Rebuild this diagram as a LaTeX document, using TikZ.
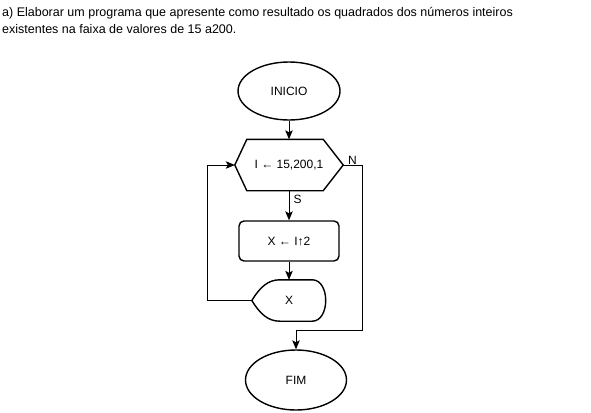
\documentclass[tikz,border=0pt]{standalone}
\usepackage{fontspec}
\setmainfont{Liberation Sans}
\usetikzlibrary{arrows.meta,calc,shapes.geometric}
\begin{document}
\begin{tikzpicture}[x=1pt,y=-1pt,
  shp/.style={draw=none,inner sep=0pt,font=\fontsize{12}{14}\selectfont},
  bord/.style={draw,line width=1.4pt},
  conn/.style={line width=1pt,-{Stealth[length=9pt,width=7.5pt,inset=2pt]}},
  lbl/.style={inner sep=0pt,font=\fontsize{12}{14}\selectfont}]
\useasboundingbox (0,0) rectangle (591,412);
\fill[white] (0,0) rectangle (591,412);
\node[lbl,anchor=base west] (t1) at (2,17) {\fontsize{12.5}{15}\selectfont a) Elaborar um programa que apresente como resultado os quadrados dos números inteiros};
\node[lbl,anchor=base west] (t2) at (2,34) {\fontsize{12.5}{15}\selectfont existentes na faixa de valores de 15 a200.};
% start
\node[shp,ellipse,bord,minimum width=102,minimum height=58] (ini) at (289,91) {INICIO};
% loop hexagon
\node[shp,minimum width=108,minimum height=51] (hex) at (289,165) {I ← 15,200,1};
\draw[bord] (hex.west) -- ($(hex.north west)+(12,0)$) -- ($(hex.north east)+(-20,0)$) -- (hex.east)
  -- ($(hex.south east)+(-20,0)$) -- ($(hex.south west)+(12,0)$) -- cycle;
% process
\node[shp,bord,rounded corners=5pt,minimum width=100,minimum height=40] (proc) at (289,241) {X ← I↑2};
% display
\node[shp,minimum width=74,minimum height=41] (disp) at (289,300.5) {X};
\draw[bord] (disp.west) .. controls ($(disp.west)+(8,-13)$) and ($(disp.north west)+(16,0)$) .. ($(disp.north west)+(28,0)$)
  -- ($(disp.north east)+(-14,0)$) .. controls ($(disp.north east)+(4,0)$) and ($(disp.south east)+(4,0)$) .. ($(disp.south east)+(-14,0)$)
  -- ($(disp.south west)+(28,0)$) .. controls ($(disp.south west)+(16,0)$) and ($(disp.west)+(8,13)$) .. (disp.west);
% end
\node[shp,ellipse,bord,minimum width=101,minimum height=60] (fim) at (296,380) {FIM};
% connectors
\draw[conn] (ini) -- (hex);
\draw[conn] (hex) -- node[lbl,right=4pt,pos=0.3] (s) {S} (proc);
\draw[conn] (proc) -- (disp);
\coordinate (l1) at (207,300.5);
\coordinate (l2) at (207,165);
\draw[conn] (disp.west) -- (l1) -- (l2) -- (hex.west);
\coordinate (r1) at (362,165);
\coordinate (r2) at (362,330);
\coordinate (r3) at (296,330);
\draw[conn] (hex.east) -- (r1) -- (r2) -- (r3) -- (fim.north);
\node[lbl,anchor=base west] (n) at (348,164) {N};
\end{tikzpicture}
\end{document}
